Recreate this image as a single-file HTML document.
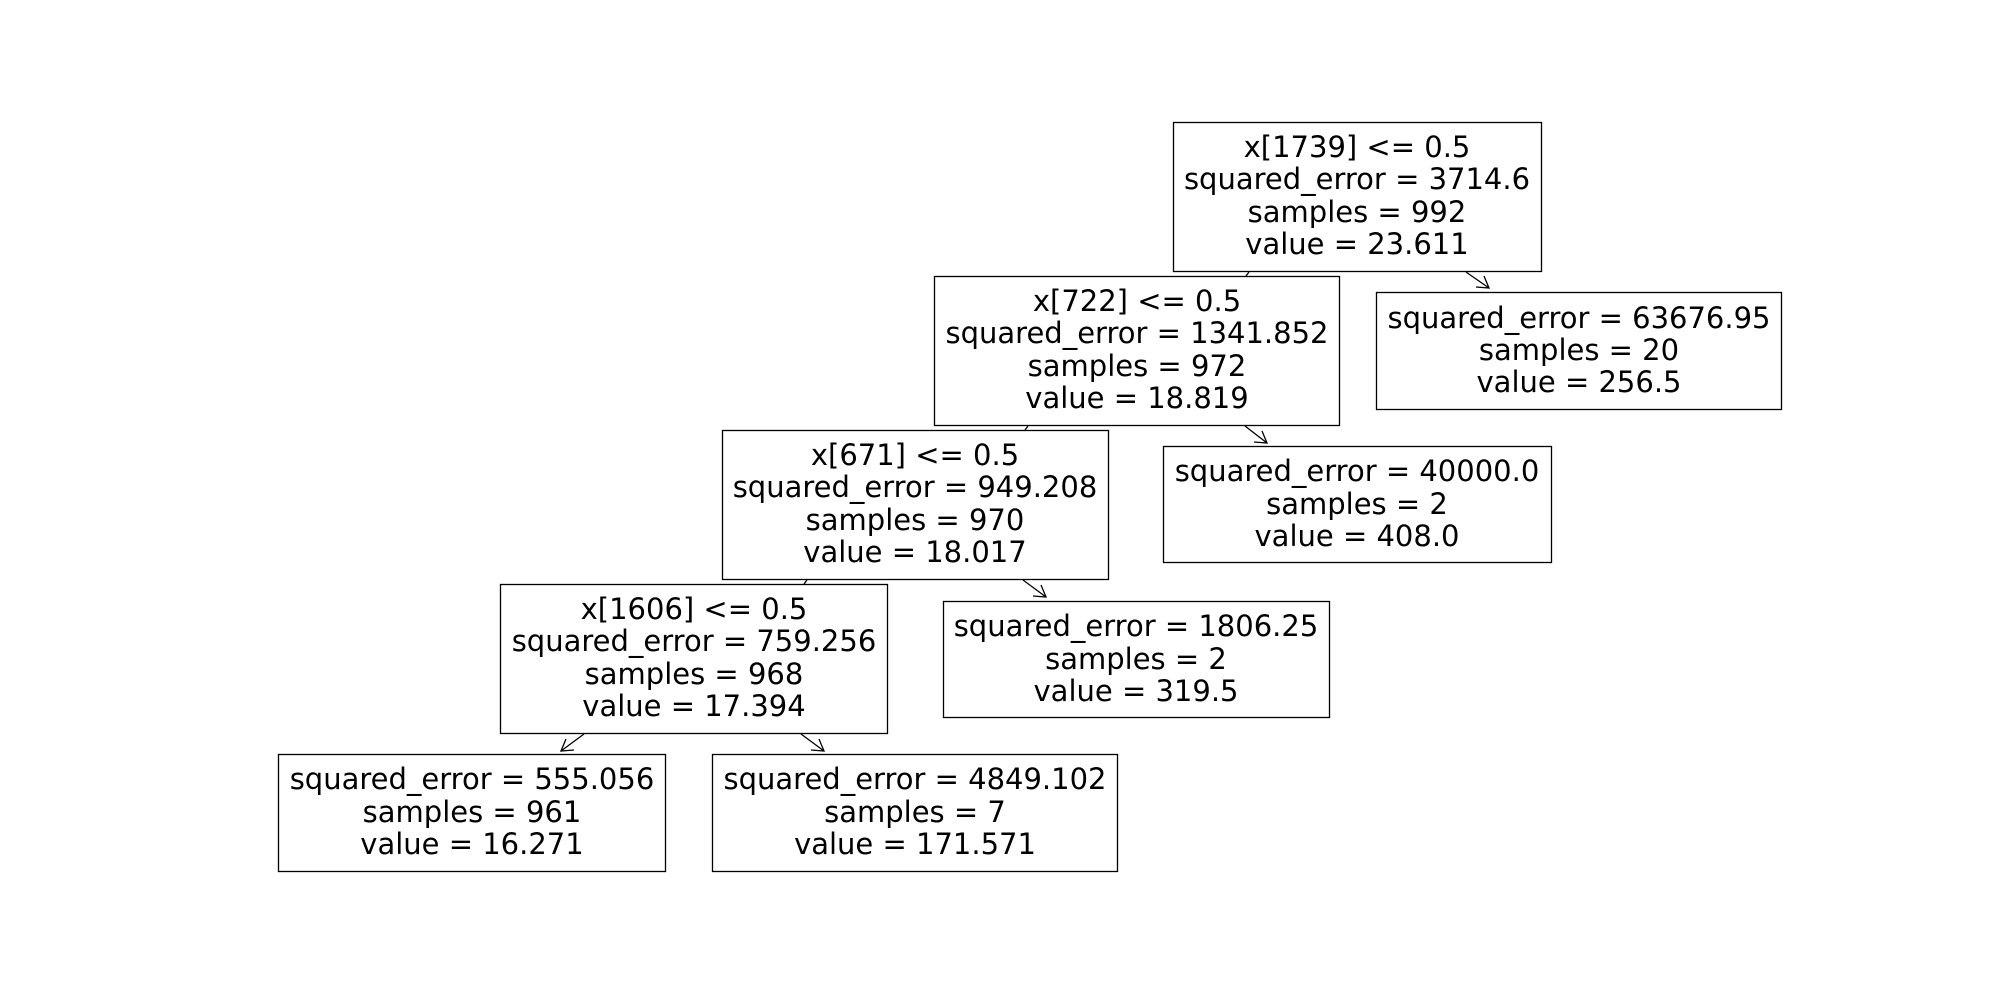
<!DOCTYPE html>
<html><head><meta charset="utf-8"><style>
html,body{margin:0;padding:0;background:#fff;}
svg{display:block;}
text{font-family:"DejaVu Sans","Liberation Sans",sans-serif;font-size:29px;fill:#000;text-anchor:middle;dominant-baseline:central;}
rect{fill:#fff;stroke:#000;stroke-width:1.3;}
line,polyline{stroke:#000;stroke-width:1.3;fill:none;}
</style></head><body>
<svg width="2000" height="1000" viewBox="0 0 2000 1000">
<line x1="1249" y1="272" x2="1246" y2="276"/>
<line x1="1466" y1="272" x2="1489" y2="288"/><polyline points="1476,287 1489,288 1484,276"/>
<line x1="1028" y1="426" x2="1025" y2="430"/>
<line x1="1245" y1="426" x2="1267" y2="443"/><polyline points="1254,442 1267,443 1262,431"/>
<line x1="807" y1="580" x2="804" y2="584"/>
<line x1="1023" y1="580" x2="1046" y2="597"/><polyline points="1033,596 1046,597 1041,585"/>
<line x1="584" y1="734" x2="561" y2="751"/><polyline points="574,750 561,751 566,739"/>
<line x1="801" y1="734" x2="824" y2="751"/><polyline points="811,750 824,751 819,739"/>

<rect x="1173.5" y="122.5" width="368" height="149"/>
<text x="1357" y="147">x[1739] &lt;= 0.5</text>
<text x="1357" y="179">squared_error = 3714.6</text>
<text x="1357" y="212">samples = 992</text>
<text x="1357" y="244">value = 23.611</text>

<rect x="1376.5" y="292.5" width="405" height="117"/>
<text x="1579" y="318">squared_error = 63676.95</text>
<text x="1579" y="350">samples = 20</text>
<text x="1579" y="382">value = 256.5</text>

<rect x="934.5" y="276.5" width="405" height="149"/>
<text x="1137" y="301">x[722] &lt;= 0.5</text>
<text x="1137" y="333">squared_error = 1341.852</text>
<text x="1137" y="366">samples = 972</text>
<text x="1137" y="398">value = 18.819</text>

<rect x="1163.5" y="446.5" width="388" height="116"/>
<text x="1357" y="471">squared_error = 40000.0</text>
<text x="1357" y="504">samples = 2</text>
<text x="1357" y="536">value = 408.0</text>

<rect x="722.5" y="430.5" width="386" height="149"/>
<text x="915" y="455">x[671] &lt;= 0.5</text>
<text x="915" y="487">squared_error = 949.208</text>
<text x="915" y="520">samples = 970</text>
<text x="915" y="552">value = 18.017</text>

<rect x="943.5" y="601.5" width="386" height="116"/>
<text x="1136" y="626">squared_error = 1806.25</text>
<text x="1136" y="659">samples = 2</text>
<text x="1136" y="691">value = 319.5</text>

<rect x="500.5" y="584.5" width="387" height="149"/>
<text x="694" y="609">x[1606] &lt;= 0.5</text>
<text x="694" y="641">squared_error = 759.256</text>
<text x="694" y="674">samples = 968</text>
<text x="694" y="706">value = 17.394</text>

<rect x="278.5" y="754.5" width="387" height="117"/>
<text x="472" y="779">squared_error = 555.056</text>
<text x="472" y="812">samples = 961</text>
<text x="472" y="844">value = 16.271</text>

<rect x="712.5" y="754.5" width="405" height="117"/>
<text x="915" y="779">squared_error = 4849.102</text>
<text x="915" y="812">samples = 7</text>
<text x="915" y="844">value = 171.571</text>
</svg>
</body></html>
